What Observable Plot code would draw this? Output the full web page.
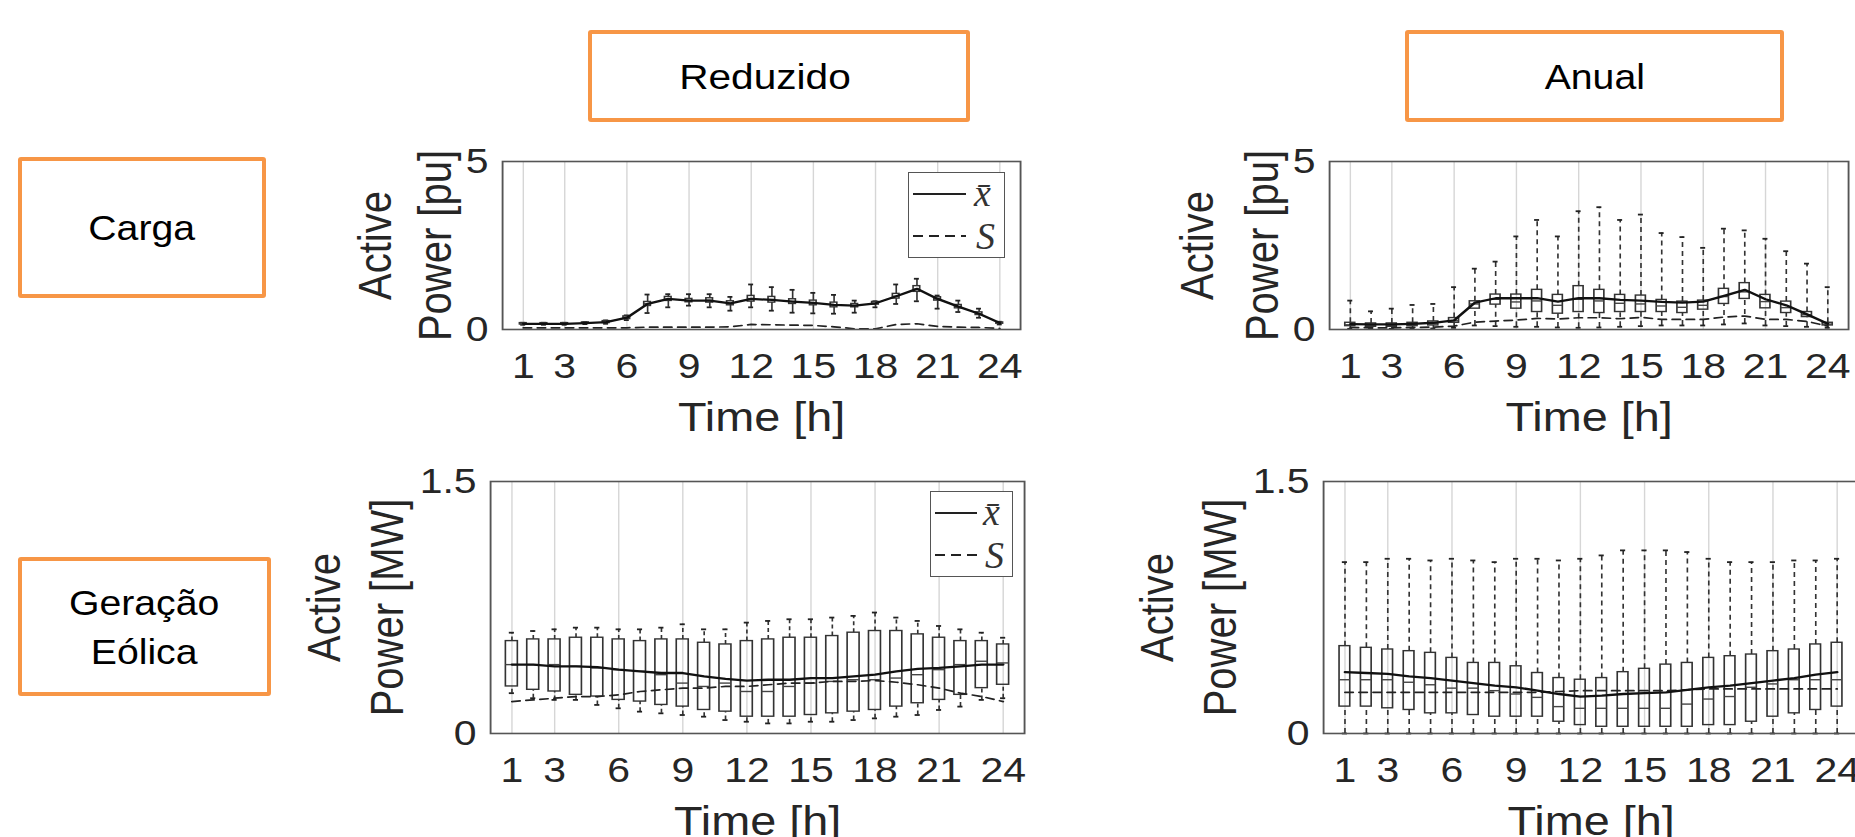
<!DOCTYPE html>
<html>
<head>
<meta charset="utf-8">
<script src="https://cdn.jsdelivr.net/npm/d3@7"></script>
<script src="https://cdn.jsdelivr.net/npm/@observablehq/plot@0.6"></script>
<style>
html,body{margin:0;padding:0;background:#fff;overflow:hidden}
#page{position:relative;width:1855px;height:837px;font-family:"Liberation Sans",Arial,Helvetica,sans-serif;color:#000;overflow:hidden}
.tag{position:absolute;box-sizing:border-box;border:4px solid #f79646;border-radius:3px;display:flex;align-items:center;justify-content:center;text-align:center;font-size:35px;line-height:49px;background:#fff}
.tag span{display:inline-block;transform:scaleX(1.12)}
.panel{position:absolute;transform-origin:0 0}
.legend{position:absolute;box-sizing:border-box;border:1.5px solid #555;background:#fff}
.legend svg{position:absolute;left:0;top:0;overflow:visible}
</style>
</head>
<body>
<div id="page">
  <div class="tag" style="left:588px;top:30px;width:382px;height:92px"><span style="margin-right:28px;transform:scaleX(1.16)">Reduzido</span></div>
  <div class="tag" style="left:1405px;top:30px;width:379px;height:92px"><span>Anual</span></div>
  <div class="tag" style="left:18px;top:157px;width:248px;height:141px"><span>Carga</span></div>
  <div class="tag" style="left:18px;top:557px;width:253px;height:139px"><span>Geração<br>Eólica</span></div>
</div>
<script>
// ---------------- data ----------------
const hours = [1,2,3,4,5,6,7,8,9,10,11,12,13,14,15,16,17,18,19,20,21,22,23,24];
const xTicks = [1,3,6,9,12,15,18,21,24];
const cargaTicks = [0,5];
const eolicaTicks = [0,1.5];
const cargaLabel = ["Active","Power [pu]"];
const eolicaLabel = ["Active","Power [MW]"];
const xLabel = "Time [h]";
const legendNames = ["x\u0304","S"];

// Carga - Reduzido
const cargaRedQ1   = [0.15,0.15,0.15,0.17,0.19,0.31,0.70,0.85,0.81,0.80,0.72,0.83,0.80,0.76,0.72,0.66,0.66,0.74,0.92,1.12,0.86,0.63,0.43,0.17];
const cargaRedMed  = [0.17,0.17,0.17,0.19,0.22,0.35,0.77,0.90,0.86,0.87,0.78,0.92,0.89,0.83,0.79,0.73,0.71,0.78,0.99,1.20,0.91,0.68,0.47,0.19];
const cargaRedQ3   = [0.19,0.19,0.19,0.21,0.25,0.39,0.82,0.97,0.91,0.93,0.84,1.00,0.97,0.90,0.86,0.80,0.76,0.82,1.06,1.29,0.96,0.73,0.51,0.21];
const cargaRedLo   = [0.14,0.14,0.14,0.16,0.17,0.28,0.49,0.66,0.71,0.66,0.56,0.66,0.56,0.50,0.48,0.47,0.50,0.66,0.76,0.84,0.62,0.52,0.35,0.15];
const cargaRedHi   = [0.20,0.20,0.20,0.22,0.27,0.42,1.04,1.05,1.05,1.05,0.97,1.34,1.26,1.18,1.09,1.03,0.86,0.84,1.34,1.51,1.01,0.86,0.62,0.23];
const cargaRedMean = [0.17,0.17,0.17,0.19,0.22,0.35,0.76,0.91,0.86,0.86,0.78,0.91,0.88,0.83,0.79,0.73,0.71,0.78,0.99,1.21,0.91,0.68,0.47,0.19];
const cargaRedS    = [0.05,0.05,0.05,0.05,0.05,0.05,0.07,0.07,0.07,0.07,0.08,0.15,0.14,0.13,0.12,0.08,0.02,0.02,0.15,0.17,0.09,0.07,0.06,0.03];

// Carga - Anual
const cargaAnuQ1   = [0.10,0.08,0.08,0.10,0.12,0.20,0.62,0.74,0.62,0.52,0.47,0.52,0.49,0.52,0.52,0.52,0.49,0.59,0.76,0.91,0.63,0.49,0.37,0.12];
const cargaAnuMed  = [0.14,0.12,0.12,0.14,0.17,0.26,0.76,0.90,0.82,0.85,0.72,0.90,0.85,0.78,0.76,0.70,0.66,0.72,0.98,1.12,0.83,0.65,0.44,0.16];
const cargaAnuQ3   = [0.20,0.18,0.18,0.20,0.24,0.34,0.84,1.04,1.04,1.18,1.03,1.29,1.18,1.03,1.01,0.88,0.83,0.86,1.21,1.38,1.03,0.83,0.52,0.20];
const cargaAnuLo   = [0.02,0.02,0.02,0.02,0.03,0.05,0.12,0.10,0.08,0.08,0.06,0.05,0.06,0.08,0.10,0.12,0.12,0.12,0.15,0.18,0.12,0.10,0.08,0.05];
const cargaAnuHi   = [0.86,0.54,0.62,0.73,0.76,1.26,1.81,2.02,2.77,3.26,2.77,3.52,3.64,3.26,3.42,2.87,2.75,2.43,3.00,2.95,2.70,2.33,1.96,1.26];
const cargaAnuMean = [0.16,0.15,0.15,0.17,0.20,0.27,0.80,0.93,0.93,0.93,0.83,0.93,0.93,0.88,0.86,0.82,0.80,0.83,1.00,1.18,0.90,0.72,0.45,0.17];
const cargaAnuS    = [0.06,0.05,0.05,0.06,0.07,0.10,0.22,0.25,0.28,0.33,0.31,0.35,0.35,0.32,0.36,0.30,0.30,0.30,0.37,0.40,0.30,0.30,0.24,0.10];

// Geração Eólica - Reduzido
const eolRedQ1   = [0.28,0.26,0.25,0.23,0.22,0.20,0.19,0.17,0.16,0.14,0.13,0.10,0.10,0.10,0.11,0.12,0.13,0.14,0.16,0.18,0.20,0.23,0.27,0.29];
const eolRedMed  = [0.41,0.41,0.41,0.40,0.39,0.38,0.37,0.35,0.30,0.28,0.30,0.25,0.25,0.28,0.30,0.31,0.32,0.32,0.33,0.35,0.38,0.41,0.43,0.42];
const eolRedQ3   = [0.55,0.56,0.56,0.57,0.57,0.56,0.55,0.56,0.56,0.54,0.53,0.55,0.56,0.57,0.57,0.58,0.60,0.61,0.61,0.59,0.57,0.55,0.55,0.53];
const eolRedLo   = [0.24,0.21,0.20,0.20,0.17,0.15,0.13,0.12,0.11,0.10,0.08,0.07,0.06,0.06,0.07,0.07,0.08,0.09,0.10,0.11,0.14,0.16,0.20,0.21];
const eolRedHi   = [0.60,0.61,0.62,0.63,0.63,0.62,0.62,0.63,0.65,0.62,0.62,0.66,0.67,0.68,0.68,0.69,0.70,0.72,0.69,0.67,0.64,0.62,0.60,0.57];
const eolRedMean = [0.41,0.41,0.40,0.40,0.395,0.38,0.37,0.36,0.36,0.34,0.325,0.315,0.32,0.32,0.33,0.33,0.34,0.35,0.37,0.385,0.39,0.40,0.41,0.41];
const eolRedS    = [0.19,0.20,0.21,0.22,0.22,0.23,0.25,0.26,0.27,0.27,0.28,0.28,0.29,0.30,0.30,0.31,0.31,0.315,0.305,0.29,0.27,0.24,0.22,0.19];

// Geração Eólica - Anual
const eolAnuQ1   = [0.16,0.16,0.15,0.14,0.12,0.12,0.11,0.10,0.10,0.10,0.07,0.05,0.04,0.04,0.04,0.04,0.04,0.05,0.05,0.07,0.10,0.12,0.14,0.16];
const eolAnuMed  = [0.32,0.32,0.32,0.305,0.29,0.27,0.27,0.255,0.235,0.215,0.16,0.15,0.15,0.15,0.15,0.15,0.175,0.205,0.22,0.275,0.295,0.32,0.32,0.32];
const eolAnuQ3   = [0.52,0.51,0.50,0.49,0.48,0.45,0.42,0.42,0.40,0.36,0.33,0.32,0.33,0.365,0.385,0.41,0.42,0.45,0.46,0.47,0.49,0.50,0.53,0.54];
const eolAnuLo   = [0,0,0,0,0,0,0,0,0,0,0,0,0,0,0,0,0,0,0,0,0,0,0,0];
const eolAnuHi   = [1.02,1.02,1.04,1.04,1.03,1.04,1.03,1.02,1.04,1.04,1.03,1.04,1.06,1.09,1.09,1.09,1.08,1.04,1.02,1.02,1.02,1.03,1.03,1.04];
const eolAnuMean = [0.365,0.36,0.355,0.34,0.33,0.315,0.30,0.285,0.275,0.255,0.235,0.22,0.225,0.235,0.24,0.245,0.26,0.275,0.285,0.30,0.315,0.33,0.35,0.365];
const eolAnuS    = [0.245,0.245,0.245,0.245,0.245,0.245,0.245,0.245,0.245,0.245,0.25,0.255,0.255,0.255,0.255,0.255,0.26,0.265,0.265,0.265,0.265,0.265,0.265,0.265];

// ---------------- drawing ----------------
const STRETCH = 1.17; // the reference figure is stretched horizontally
const FONT = '"Liberation Sans", Arial, Helvetica, sans-serif';
const TEXT = "#262626";

function table(q1, med, q3, lo, hi, mean, s) {
  return hours.map((h, i) => ({h, q1: q1[i], med: med[i], q3: q3[i], lo: lo[i], hi: hi[i], mean: mean[i], s: s[i]}));
}

function panel(cfg) {
  const {left, top, width, height, fx0, fx1, fy0, fy1, yMax, yTicks, yLabel, data, bw, cw, dash, off1, off2} = cfg;
  const svg = Plot.plot({
    width: width / STRETCH,
    height,
    marginLeft: (fx0 - left) / STRETCH,
    marginRight: (left + width - fx1) / STRETCH,
    marginTop: fy0 - top,
    marginBottom: top + height - fy1,
    x: {domain: [0, 25]},
    y: {domain: [0, yMax]},
    style: {fontFamily: FONT, fontSize: "35px", color: TEXT, background: "transparent", overflow: "visible"},
    marks: [
      Plot.gridX({ticks: xTicks, stroke: "#d6d6d6", strokeOpacity: 1, strokeWidth: 1.2}),
      Plot.axisX({ticks: xTicks, tickSize: 0, tickPadding: 24, fontSize: 35, label: null}),
      Plot.axisY({ticks: yTicks, tickSize: 0, tickPadding: 12, fontSize: 35, label: null, tickFormat: d => String(d)}),
      Plot.ruleX(data, {x: "h", y1: "q3", y2: "hi", stroke: "#333", strokeWidth: 1.4, strokeDasharray: dash}),
      Plot.ruleX(data, {x: "h", y1: "lo", y2: "q1", stroke: "#333", strokeWidth: 1.4, strokeDasharray: dash}),
      Plot.ruleY(data, {y: "hi", x1: d => d.h - cw, x2: d => d.h + cw, stroke: "#222", strokeWidth: 1.8}),
      Plot.ruleY(data, {y: "lo", x1: d => d.h - cw, x2: d => d.h + cw, stroke: "#222", strokeWidth: 1.8}),
      Plot.rect(data, {x1: d => d.h - bw, x2: d => d.h + bw, y1: "q1", y2: "q3", fill: "none", stroke: "#333", strokeWidth: 1.4}),
      Plot.ruleY(data, {y: "med", x1: d => d.h - bw, x2: d => d.h + bw, stroke: "#444", strokeWidth: 1.4}),
      Plot.line(data, {x: "h", y: "s", stroke: "#222", strokeWidth: 1.7, strokeDasharray: "7,5"}),
      Plot.line(data, {x: "h", y: "mean", stroke: "#111", strokeWidth: 2.3}),
      Plot.frame({stroke: "#555", strokeWidth: 1.6}),
      Plot.text([xLabel], {frameAnchor: "bottom", dy: 73, lineAnchor: "top", textAnchor: "middle", fontSize: 40, fill: TEXT}),
      Plot.text([yLabel[0]], {frameAnchor: "left", dx: -off1 / STRETCH, rotate: -90, textAnchor: "middle", lineAnchor: "middle", fontSize: 40, fill: TEXT}),
      Plot.text([yLabel[1]], {frameAnchor: "left", dx: -off2 / STRETCH, rotate: -90, textAnchor: "middle", lineAnchor: "middle", fontSize: 40, fill: TEXT})
    ]
  });
  const wrap = document.createElement("div");
  wrap.className = "panel";
  wrap.style.left = left + "px";
  wrap.style.top = top + "px";
  wrap.style.transform = `scaleX(${STRETCH})`;
  wrap.appendChild(svg);
  document.getElementById("page").appendChild(wrap);
}

function legend(left, top, w, h, lineEnd, textX) {
  const div = document.createElement("div");
  div.className = "legend";
  Object.assign(div.style, {left: left + "px", top: top + "px", width: w + "px", height: h + "px"});
  div.innerHTML = `<svg width="${w}" height="${h}">
    <line x1="4" x2="${lineEnd}" y1="21" y2="21" stroke="#222" stroke-width="2"/>
    <text x="${textX}" y="33" font-family="Liberation Serif, Times New Roman, serif" font-style="italic" font-size="38" fill="#333">${legendNames[0]}</text>
    <line x1="4" x2="${lineEnd}" y1="63" y2="63" stroke="#222" stroke-width="1.8" stroke-dasharray="10,6"/>
    <text x="${textX + 2}" y="76" font-family="Liberation Serif, Times New Roman, serif" font-style="italic" font-size="38" fill="#333">${legendNames[1]}</text>
  </svg>`;
  document.getElementById("page").appendChild(div);
}

panel({left: 290, top: 130, width: 750, height: 320, fx0: 502, fx1: 1020, fy0: 161, fy1: 329,
  yMax: 5, yTicks: cargaTicks, yLabel: cargaLabel,
  data: table(cargaRedQ1, cargaRedMed, cargaRedQ3, cargaRedLo, cargaRedHi, cargaRedMean, cargaRedS),
  bw: 0.16, cw: 0.12, dash: null, off1: 127, off2: 67});

panel({left: 1110, top: 130, width: 745, height: 320, fx0: 1329, fx1: 1848, fy0: 161, fy1: 329,
  yMax: 5, yTicks: cargaTicks, yLabel: cargaLabel,
  data: table(cargaAnuQ1, cargaAnuMed, cargaAnuQ3, cargaAnuLo, cargaAnuHi, cargaAnuMean, cargaAnuS),
  bw: 0.24, cw: 0.12, dash: "5,4", off1: 132, off2: 67});

panel({left: 290, top: 450, width: 750, height: 387, fx0: 490, fx1: 1024, fy0: 481, fy1: 733,
  yMax: 1.5, yTicks: eolicaTicks, yLabel: eolicaLabel,
  data: table(eolRedQ1, eolRedMed, eolRedQ3, eolRedLo, eolRedHi, eolRedMean, eolRedS),
  bw: 0.28, cw: 0.12, dash: "4,3", off1: 166, off2: 103});

panel({left: 1110, top: 450, width: 750, height: 387, fx0: 1323, fx1: 1858, fy0: 481, fy1: 733,
  yMax: 1.5, yTicks: eolicaTicks, yLabel: eolicaLabel,
  data: table(eolAnuQ1, eolAnuMed, eolAnuQ3, eolAnuLo, eolAnuHi, eolAnuMean, eolAnuS),
  bw: 0.25, cw: 0.12, dash: "5,4", off1: 166, off2: 103});

legend(908, 172, 97, 86, 57, 65);
legend(930, 491, 83, 86, 46, 52);
</script>
</body>
</html>
